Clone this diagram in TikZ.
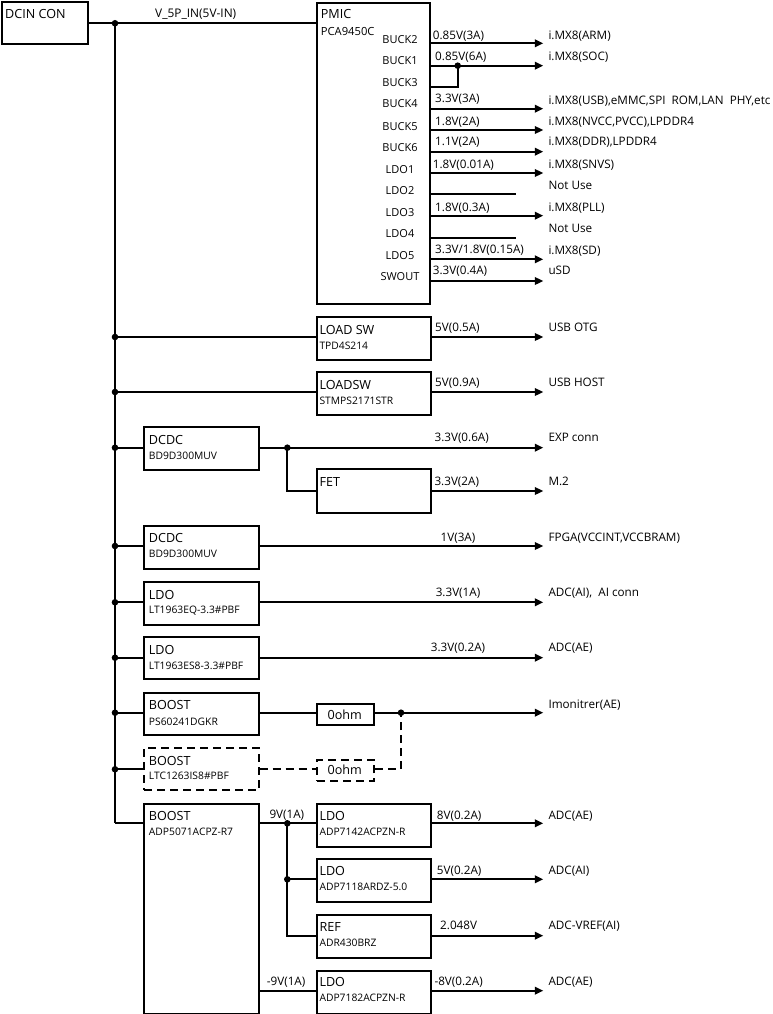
\documentclass[tikz,border=0pt]{standalone}
\usepackage{fontspec}
\setmainfont{Open Sans}
\usetikzlibrary{arrows.meta}
\begin{document}
\begin{tikzpicture}[x=1pt,y=-1pt,
  box/.style={draw, line width=2pt, inner sep=0pt, anchor=north west},
  ttl/.style={font=\fontsize{12.6}{14}\selectfont, anchor=base west, inner sep=0pt},
  sub/.style={font=\fontsize{10.3}{12}\selectfont, anchor=base west, inner sep=0pt},
  lbl/.style={font=\fontsize{11.7}{13}\selectfont, anchor=base west, inner sep=0pt},
  pin/.style={font=\fontsize{11}{13}\selectfont, anchor=base, inner sep=0pt},
  wire/.style={line width=2pt},
  arr/.style={wire, -{Triangle[length=8.5pt,width=7.5pt]}},
  dashline/.style={dash pattern=on 8pt off 5pt},
  dot/.style={fill=black}
]
\useasboundingbox (0,0) rectangle (773,1014);

% ---------- DCIN ----------
\node[box, minimum width=86.3pt, minimum height=42.3pt] (dcin) at (1,1) {};
\node[ttl] (tdcin) at (5,19) {DCIN CON};
\node[lbl, font=\fontsize{11.9}{13}\selectfont] (tv5) at (155,17.3) {V\_5P\_IN(5V-IN)};

% ---------- PMIC ----------
\node[box, minimum width=113.3pt, minimum height=300.7pt] (pmic) at (316,2) {};
\node[ttl] (tpmic) at (320.7,18.3) {PMIC};
\node[lbl, font=\fontsize{11.2}{13}\selectfont] (spmic) at (320.7,35.7) {PCA9450C};
\node[pin] (pb2) at (400,44) {BUCK2};
\node[pin] (pb1) at (400,65) {BUCK1};
\node[pin] (pb3) at (400,86.7) {BUCK3};
\node[pin] (pb4) at (400,107.7) {BUCK4};
\node[pin] (pb5) at (400,131) {BUCK5};
\node[pin] (pb6) at (400,151.7) {BUCK6};
\node[pin] (pl1) at (400,173.3) {LDO1};
\node[pin] (pl2) at (400,194.3) {LDO2};
\node[pin] (pl3) at (400,216) {LDO3};
\node[pin] (pl4) at (400,237.3) {LDO4};
\node[pin] (pl5) at (400,259.3) {LDO5};
\node[pin] (psw) at (400,280) {SWOUT};

\coordinate (eb2) at (543.3,43.3);
\coordinate (eb1) at (543.3,65.7);
\coordinate (eb3) at (457.7,86.7);
\coordinate (jb13) at (457.7,65.7);
\coordinate (eb4) at (543.3,108.7);
\coordinate (eb5) at (543.3,130);
\coordinate (eb6) at (543.3,151.7);
\coordinate (el1) at (543.3,173);
\coordinate (el2) at (515.7,194.3);
\coordinate (el3) at (543.3,215.7);
\coordinate (el4) at (515.7,237.7);
\coordinate (el5) at (543.3,259.3);
\coordinate (esw) at (543.3,281);

\draw[arr] (pmic.east |- eb2) -- (eb2);
\draw[arr] (pmic.east |- eb1) -- (eb1);
\draw[wire] (pmic.east |- eb3) -- (eb3) -- (jb13);
\fill[dot] (jb13) circle[radius=3.3pt];
\draw[arr] (pmic.east |- eb4) -- (eb4);
\draw[arr] (pmic.east |- eb5) -- (eb5);
\draw[arr] (pmic.east |- eb6) -- (eb6);
\draw[arr] (pmic.east |- el1) -- (el1);
\draw[wire] (pmic.east |- el2) -- (el2);
\draw[arr] (pmic.east |- el3) -- (el3);
\draw[wire] (pmic.east |- el4) -- (el4);
\draw[arr] (pmic.east |- el5) -- (el5);
\draw[arr] (pmic.east |- esw) -- (esw);

\node[lbl] (vb2) at (432.7,39.3) {0.85V(3A)};
\node[lbl] (vb1) at (435,60.7) {0.85V(6A)};
\node[lbl] (vb4) at (435,102.7) {3.3V(3A)};
\node[lbl] (vb5) at (435,125) {1.8V(2A)};
\node[lbl] (vb6) at (435,146) {1.1V(2A)};
\node[lbl] (vl1) at (432.7,168.3) {1.8V(0.01A)};
\node[lbl] (vl3) at (435,211) {1.8V(0.3A)};
\node[lbl] (vl5) at (435,253.3) {3.3V/1.8V(0.15A)};
\node[lbl] (vsw) at (432.7,274.3) {3.3V(0.4A)};

\node[lbl] (db2) at (548.3,39.3) {i.MX8(ARM)};
\node[lbl] (db1) at (548.3,61) {i.MX8(SOC)};
\node[lbl] (db4) at (548.3,104.3) {i.MX8(USB),eMMC,SPI\ \ ROM,LAN\ \ PHY,etc};
\node[lbl] (db5) at (548.3,125) {i.MX8(NVCC,PVCC),LPDDR4};
\node[lbl] (db6) at (548.3,146) {i.MX8(DDR),LPDDR4};
\node[lbl] (dl1) at (548.3,168.3) {i.MX8(SNVS)};
\node[lbl] (dl2) at (548.3,189) {Not Use};
\node[lbl] (dl3) at (548.3,211) {i.MX8(PLL)};
\node[lbl] (dl4) at (548.3,232.3) {Not Use};
\node[lbl] (dl5) at (548.3,254) {i.MX8(SD)};
\node[lbl] (dsw) at (548.3,274.3) {uSD};

% ---------- bus ----------
\coordinate (j0) at (115,23.3);
\coordinate (busend) at (115,823.3);
\draw[wire] (dcin.east |- j0) -- (pmic.west |- j0);
\draw[wire] (j0) -- (busend);
\fill[dot] (j0) circle[radius=3.3pt];

% ---------- load switches ----------
\node[box, minimum width=114pt, minimum height=43.3pt] (lsw1) at (316,315.7) {};
\node[ttl] (tlsw1) at (319.3,334.3) {LOAD SW};
\node[sub] (slsw1) at (319.3,349) {TPD4S214};
\coordinate (jl1) at (115,337);
\coordinate (el1o) at (543.3,337);
\draw[wire] (jl1) -- (lsw1.west |- jl1);
\fill[dot] (jl1) circle[radius=3.3pt];
\draw[arr] (lsw1.east |- el1o) -- (el1o);
\node[lbl] (vlsw1) at (435,331.7) {5V(0.5A)};
\node[lbl] (dlsw1) at (548.3,331.5) {USB OTG};

\node[box, minimum width=114pt, minimum height=43.3pt] (lsw2) at (316,370.7) {};
\node[ttl] (tlsw2) at (319.3,389.3) {LOADSW};
\node[sub] (slsw2) at (319.3,404) {STMPS2171STR};
\coordinate (jl2) at (115,392);
\coordinate (el2o) at (543.3,392);
\draw[wire] (jl2) -- (lsw2.west |- jl2);
\fill[dot] (jl2) circle[radius=3.3pt];
\draw[arr] (lsw2.east |- el2o) -- (el2o);
\node[lbl] (vlsw2) at (435,386.5) {5V(0.9A)};
\node[lbl] (dlsw2) at (548.3,386.5) {USB HOST};

% ---------- DCDC 1 + FET ----------
\node[box, minimum width=114.4pt, minimum height=43pt] (dc1) at (143.3,426) {};
\node[ttl] (tdc1) at (148.7,444.3) {DCDC};
\node[sub] (sdc1) at (148.7,459) {BD9D300MUV};
\coordinate (jd1) at (115,447.7);
\coordinate (ed1) at (543.3,447.7);
\coordinate (jf) at (287.3,447.7);
\coordinate (jf2) at (287.3,491);
\draw[wire] (jd1) -- (dc1.west |- jd1);
\fill[dot] (jd1) circle[radius=3.3pt];
\draw[arr] (dc1.east |- ed1) -- (ed1);
\fill[dot] (jf) circle[radius=3.3pt];
\node[box, minimum width=114pt, minimum height=43.4pt] (fet) at (316,468.3) {};
\node[ttl] (tfet) at (319.3,486.7) {FET};
\draw[wire] (jf) -- (jf2) -- (fet.west |- jf2);
\coordinate (ef) at (543.3,491);
\draw[arr] (fet.east |- ef) -- (ef);
\node[lbl, anchor=base] (vdc1) at (461.7,441.7) {3.3V(0.6A)};
\node[lbl] (ddc1) at (548.3,441.7) {EXP conn};
\node[lbl] (vfet) at (434.3,485) {3.3V(2A)};
\node[lbl] (dfet) at (548.3,485) {M.2};

% ---------- DCDC 2 ----------
\node[box, minimum width=114.4pt, minimum height=42.7pt] (dc2) at (143.3,525) {};
\node[ttl] (tdc2) at (148.7,542.7) {DCDC};
\node[sub] (sdc2) at (148.7,557.7) {BD9D300MUV};
\coordinate (jd2) at (115,546);
\coordinate (ed2) at (543.3,546);
\draw[wire] (jd2) -- (dc2.west |- jd2);
\fill[dot] (jd2) circle[radius=3.3pt];
\draw[arr] (dc2.east |- ed2) -- (ed2);
\node[lbl, anchor=base] (vdc2) at (458,541) {1V(3A)};
\node[lbl] (ddc2) at (548.3,541) {FPGA(VCCINT,VCCBRAM)};

% ---------- LDO 1 ----------
\node[box, minimum width=114.4pt, minimum height=43pt] (ld1) at (143.3,581) {};
\node[ttl] (tld1) at (148.7,599) {LDO};
\node[sub] (sld1) at (148.7,613.3) {LT1963EQ-3.3\#PBF};
\coordinate (jld1) at (115,602.3);
\coordinate (eld1) at (543.3,602.3);
\draw[wire] (jld1) -- (ld1.west |- jld1);
\fill[dot] (jld1) circle[radius=3.3pt];
\draw[arr] (ld1.east |- eld1) -- (eld1);
\node[lbl, anchor=base] (vld1) at (458,596) {3.3V(1A)};
\node[lbl] (dld1) at (548.3,596) {ADC(AI),\ \ AI conn};

% ---------- LDO 2 ----------
\node[box, minimum width=114.4pt, minimum height=42.3pt] (ld2) at (143.3,636) {};
\node[ttl] (tld2) at (148.7,654) {LDO};
\node[sub] (sld2) at (148.7,669) {LT1963ES8-3.3\#PBF};
\coordinate (jld2) at (115,657.7);
\coordinate (eld2) at (543.3,657.7);
\draw[wire] (jld2) -- (ld2.west |- jld2);
\fill[dot] (jld2) circle[radius=3.3pt];
\draw[arr] (ld2.east |- eld2) -- (eld2);
\node[lbl, anchor=base] (vld2) at (458,651.7) {3.3V(0.2A)};
\node[lbl] (dld2) at (548.3,651.7) {ADC(AE)};

% ---------- BOOST 1 / 2 ----------
\node[box, minimum width=114.4pt, minimum height=42pt] (bo1) at (143.3,692.3) {};
\node[ttl] (tbo1) at (148.7,709.3) {BOOST};
\node[sub] (sbo1) at (148.7,725) {PS60241DGKR};
\node[box, minimum width=57.3pt, minimum height=21pt] (r1) at (316,703.3) {};
\node[ttl, anchor=base] (tr1) at (344.7,719) {0ohm};
\coordinate (jb1) at (115,712.7);
\coordinate (jr) at (401,712.7);
\coordinate (eb) at (543.3,712.7);
\draw[wire] (jb1) -- (bo1.west |- jb1);
\fill[dot] (jb1) circle[radius=3.3pt];
\draw[wire] (bo1.east |- jb1) -- (r1.west |- jb1);
\draw[arr] (r1.east |- jb1) -- (eb);
\fill[dot] (jr) circle[radius=3.3pt];
\node[lbl] (dbo1) at (548.3,708) {Imonitrer(AE)};

\node[box, dashline, minimum width=114.4pt, minimum height=42.6pt] (bo2) at (143.3,746.7) {};
\node[ttl] (tbo2) at (148.7,765) {BOOST};
\node[sub] (sbo2) at (148.7,779) {LTC1263IS8\#PBF};
\node[box, dashline, minimum width=57.3pt, minimum height=21pt] (r2) at (316,759) {};
\node[ttl, anchor=base] (tr2) at (344.7,774.3) {0ohm};
\coordinate (jb2) at (115,769.3);
\coordinate (jr2) at (401,769.3);
\draw[wire] (jb2) -- (bo2.west |- jb2);
\fill[dot] (jb2) circle[radius=3.3pt];
\draw[wire, dashline] (bo2.east |- jb2) -- (r2.west |- jb2);
\draw[wire, dashline] (r2.east |- jb2) -- (jr2) -- (jr);

% ---------- BOOST 3 ----------
\node[box, minimum width=114.4pt, minimum height=209.4pt] (bo3) at (143.3,803.3) {};
\node[ttl] (tbo3) at (148.7,820.7) {BOOST};
\node[sub] (sbo3) at (148.7,835.7) {ADP5071ACPZ-R7};
\draw[wire] (busend) -- (bo3.west |- busend);

\node[box, minimum width=114pt, minimum height=42.4pt] (la) at (316,803.3) {};
\node[ttl] (tla) at (319.3,820.7) {LDO};
\node[sub] (sla) at (319.3,835.7) {ADP7142ACPZN-R};
\node[box, minimum width=114pt, minimum height=42.7pt] (lb) at (316,858.3) {};
\node[ttl] (tlb) at (319.3,875.7) {LDO};
\node[sub] (slb) at (319.3,890.7) {ADP7118ARDZ-5.0};
\node[box, minimum width=114pt, minimum height=42.7pt] (rf) at (316,914) {};
\node[ttl] (trf) at (319.3,931.7) {REF};
\node[sub] (srf) at (319.3,946.7) {ADR430BRZ};
\node[box, minimum width=114pt, minimum height=42.7pt] (lc) at (316,970) {};
\node[ttl] (tlc) at (319.3,986.7) {LDO};
\node[sub] (slc) at (319.3,1001.7) {ADP7182ACPZN-R};

\coordinate (j9a) at (287.3,823.3);
\coordinate (j9b) at (287.3,879.3);
\coordinate (j9c) at (287.3,935.7);
\coordinate (y9n) at (257.7,990.7);
\draw[wire] (bo3.east |- j9a) -- (la.west |- j9a);
\draw[wire] (j9a) -- (j9c) -- (rf.west |- j9c);
\draw[wire] (j9b) -- (lb.west |- j9b);
\fill[dot] (j9a) circle[radius=3.3pt];
\fill[dot] (j9b) circle[radius=3.3pt];
\draw[wire] (bo3.east |- y9n) -- (lc.west |- y9n);

\coordinate (ela) at (543.3,823.3);
\coordinate (elb) at (543.3,879.3);
\coordinate (erf) at (543.3,935.7);
\coordinate (elc) at (543.3,990.7);
\draw[arr] (la.east |- ela) -- (ela);
\draw[arr] (lb.east |- elb) -- (elb);
\draw[arr] (rf.east |- erf) -- (erf);
\draw[arr] (lc.east |- elc) -- (elc);

\node[lbl] (v9p) at (269.3,818.3) {9V(1A)};
\node[lbl] (v9n) at (266.7,985) {-9V(1A)};
\node[lbl] (vla) at (436.7,819.3) {8V(0.2A)};
\node[lbl] (vlb) at (436.7,874) {5V(0.2A)};
\node[lbl] (vrf) at (440,929.3) {2.048V};
\node[lbl] (vlc) at (434.3,985) {-8V(0.2A)};
\node[lbl] (dla) at (548.3,819.3) {ADC(AE)};
\node[lbl] (dlb) at (548.3,874) {ADC(AI)};
\node[lbl] (drf) at (548.3,929.3) {ADC-VREF(AI)};
\node[lbl] (dlc) at (548.3,985) {ADC(AE)};
\end{tikzpicture}
\end{document}
